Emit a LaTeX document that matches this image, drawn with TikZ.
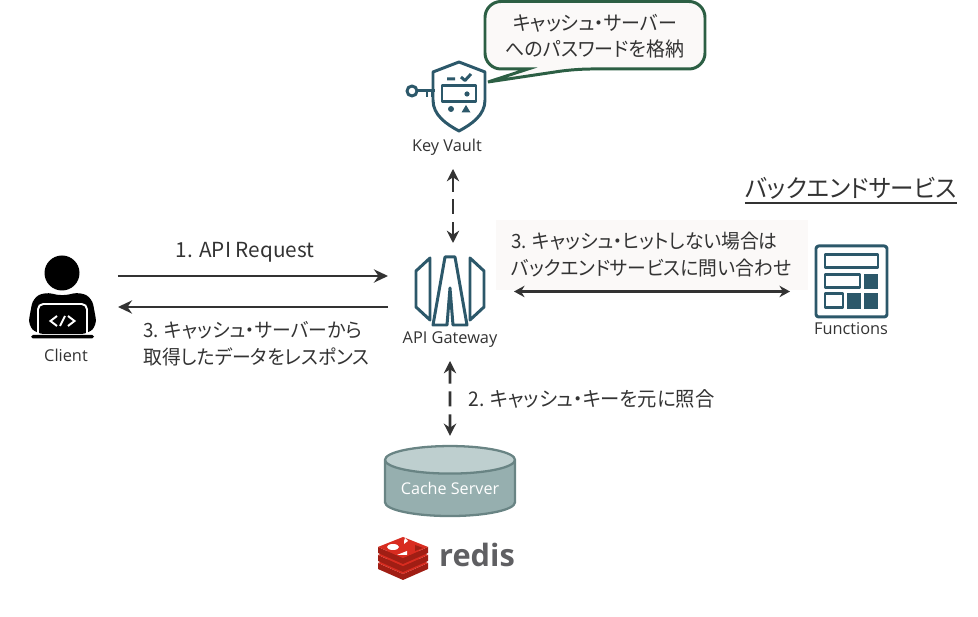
\documentclass[tikz,border=0pt]{standalone}
\usepackage{fontspec}
\setmainfont[RawFeature=+palt, FakeStretch=0.955]{Noto Sans CJK JP}
\newfontfamily\latinfont{Open Sans}
\newfontfamily\widefont[RawFeature=+palt]{Noto Sans CJK JP}
\definecolor{inkgray}{RGB}{51, 51, 51}
\definecolor{iconteal}{RGB}{44, 88, 106}
\definecolor{notegreen}{RGB}{44, 95, 68}
\definecolor{notebg}{RGB}{251, 249, 248}
\definecolor{cachebody}{RGB}{150, 175, 175}
\definecolor{cachetop}{RGB}{190, 207, 207}
\definecolor{cacheline}{RGB}{105, 132, 132}
\definecolor{redisdark}{RGB}{160, 30, 20}
\definecolor{redisred}{RGB}{216, 44, 32}
\definecolor{redisgray}{RGB}{95, 95, 98}
\usetikzlibrary{shapes.geometric, arrows.meta, positioning, calc}
\tikzset{
  flowline/.style={-{Stealth[length=8pt,width=7.5pt]}, line width=1.6pt, draw=inkgray},
  bothline/.style={{Stealth[length=6pt,width=6.5pt]}-{Stealth[length=6pt,width=6.5pt]}, line width=1.6pt, draw=inkgray},
  dashline/.style={{Stealth[length=7pt,width=7pt]}-{Stealth[length=7pt,width=7pt]}, line width=1.6pt, draw=inkgray, dash pattern=on 8.5pt off 4.5pt},
  iconbox/.style={inner sep=0pt, outer sep=0pt},
  iconlabel/.style={inner sep=0pt, outer sep=0pt, font=\latinfont\fontsize{9.3}{11}\selectfont, text=inkgray},
  steplabel/.style={inner sep=0pt, align=left, font=\fontsize{11.2}{15.2}\selectfont, text=inkgray},
  iconline/.style={draw=iconteal, line width=1.7pt, line join=round}
}
\begin{document}
\begin{tikzpicture}[x=0.02cm, y=-0.02cm]
  \useasboundingbox (0,0) rectangle (978,617);

  % Client
  \node[iconbox, minimum width=2.24cm, minimum height=1.9cm] (client) at (62,291.5) {};
  \fill[black] (62,273) circle (17.5);
  \fill[black, rounded corners=4pt] (28,325) -- (33,298) -- (45,292) -- (62,296) -- (80,292) -- (92,298) -- (97,325) -- (88,334) -- (37,334) -- cycle;
  \draw[white, line width=1.1pt, rounded corners=3pt] (38,336) -- (38,304) -- (87,304) -- (87,336);
  \fill[black, rounded corners=1pt] (31,335) rectangle (94,338.5);
  \draw[white, line width=1.1pt] (57,316) -- (50.5,321) -- (57,326) (65,316) -- (60,326) (68,316) -- (74.5,321) -- (68,326);
  \node[iconlabel] (clientlabel) at (66,355.5) {Client};

  % API Gateway
  \node[iconbox, minimum width=2.48cm, minimum height=1.94cm] (gw) at (450,291.5) {};
  \draw[iconline] (430,258) -- (416,271) -- (416,307) -- (430,320) -- cycle;
  \draw[iconline] (470,258) -- (484,271) -- (484,307) -- (470,320) -- cycle;
  \draw[iconline] (445,257) -- (455,257) -- (467,325) -- (453,325) -- (450,288) -- (447,325) -- (433,325) -- cycle;
  \node[iconlabel, minimum height=0.84cm, anchor=center] (gwlabel) at (450,340) {API Gateway};

  % Key Vault
  \draw[iconline] (459,62) -- (485,72) -- (485,100) .. controls (485,115) and (472,124) .. (459,131) .. controls (446,124) and (433,115) .. (433,100) -- (433,72) -- cycle;
  \draw[iconline] (412,91) circle (5);
  \draw[iconline] (417,91) -- (435,91) (427,91) -- (427,97) (432,91) -- (432,97);
  \draw[iconline] (442,86) rectangle (476,102);
  \fill[iconteal] (467,94) circle (2.6);
  \draw[iconline] (447,79) -- (455,79) (461,77) -- (465,80.5) -- (471,74);
  \fill[iconteal] (451,109) circle (3);
  \fill[iconteal] (466,105) -- (470.5,112.5) -- (461.5,112.5) -- cycle;
  \node[iconlabel, minimum height=0.88cm] (vaultlabel) at (447,147) {Key Vault};

  % Note on the vault
  \draw[draw=notegreen, fill=notebg, line width=1.7pt, rounded corners=0.32cm] (485,35) |- (705,1.5) |- (575,69) [sharp corners] -- (488,82) -- (528,69) [rounded corners=0.32cm] -| (485,35) -- cycle;
  \node[inner sep=0pt, align=center, font=\fontsize{11.3}{15}\selectfont, text=inkgray] (note) at (595,36) {キャッシュ・サーバー\\へのパスワードを格納};

  % Functions
  \node[iconbox, minimum width=2.44cm, minimum height=1.5cm] (fn) at (851,281.5) {};
  \draw[iconline, rounded corners=1.5pt] (816,246) rectangle (887,317);
  \draw[iconline] (825,255) rectangle (878,268);
  \draw[iconline] (825,275) rectangle (860,288);
  \fill[iconteal] (864,274) rectangle (878,289);
  \draw[iconline] (825,294) rectangle (843,308);
  \fill[iconteal] (847,293) rectangle (861,309);
  \fill[iconteal] (864,293) rectangle (878,309);
  \node[iconlabel] (fnlabel) at (851,328.5) {Functions};

  % Backend title
  \node[inner sep=0pt, font=\fontsize{14}{16}\selectfont, text=inkgray] (backend) at (851,188) {バックエンドサービス};
  \draw[inkgray, line width=0.7pt] (backend.west |- 0,203) coordinate (ulstart) -- (backend.east |- ulstart);

  % Cache Server
  \node[cylinder, shape border rotate=90, aspect=.28, draw=cacheline, line width=1.3pt, cylinder uses custom fill, cylinder body fill=cachebody, cylinder end fill=cachetop, minimum width=2.6cm, minimum height=1.4cm, inner sep=0pt, text=white, font=\latinfont\fontsize{9.2}{11}\selectfont] (cache) at (450,488.5) {Cache Server};

  % Redis
  \foreach \yy in {16,8,0} {
    \fill[redisdark] (378,547+\yy) -- (403,558+\yy) -- (428,547+\yy) -- (428,553+\yy) -- (403,564+\yy) -- (378,553+\yy) -- cycle;
    \fill[redisred] (378,547+\yy) -- (403,537+\yy) -- (428,547+\yy) -- (403,558+\yy) -- cycle;
  }
  \fill[white] (393,547) ellipse (6 and 3);
  \fill[white] (404,541) -- (405,538) -- (408,541) -- (404,544) -- cycle;
  \fill[white] (397,555) -- (407,551) -- (407,555) -- cycle;
  \fill[redisdark] (415,545) -- (423,548) -- (415,551) -- cycle;
  \node[inner sep=0pt, text=redisgray, font=\latinfont\bfseries\fontsize{17.5}{20}\selectfont] (redislabel) at (477,555) {redis};

  % Text backing
  \fill[notebg] (496,220) rectangle (808,290);

  % Arrows
  \draw[flowline] ([yshift=0.31cm]client.east) -- ([yshift=0.31cm]gw.west);
  \draw[flowline] ([yshift=-0.31cm]gw.west) -- ([yshift=-0.31cm]client.east);
  \draw[bothline] ([xshift=0.04cm]gw.east) -- (fn.west |- gw.east);
  \draw[dashline] ([xshift=0.06cm]vaultlabel.south -| gw.north) -- ([xshift=0.06cm]gw.north);
  \draw[dashline] (gwlabel.south) -- ([yshift=0.18cm]cache.north);

  % Labels
  \node[steplabel, font=\widefont\fontsize{11.8}{15.2}\selectfont] (reqlabel) at (245,252.5) {1. API Request};
  \node[steplabel, anchor=west] (resplabel) at (143,344) {3. キャッシュ・サーバーから\\取得したデータをレスポンス};
  \node[steplabel, anchor=west] (misslabel) at (511,254.5) {3. キャッシュ・ヒットしない場合は\\バックエンドサービスに問い合わせ};
  \node[steplabel, anchor=west, font=\fontsize{11.5}{15.2}\selectfont] (keylabel) at (468,399) {2. キャッシュ・キーを元に照合};
\end{tikzpicture}
\end{document}
